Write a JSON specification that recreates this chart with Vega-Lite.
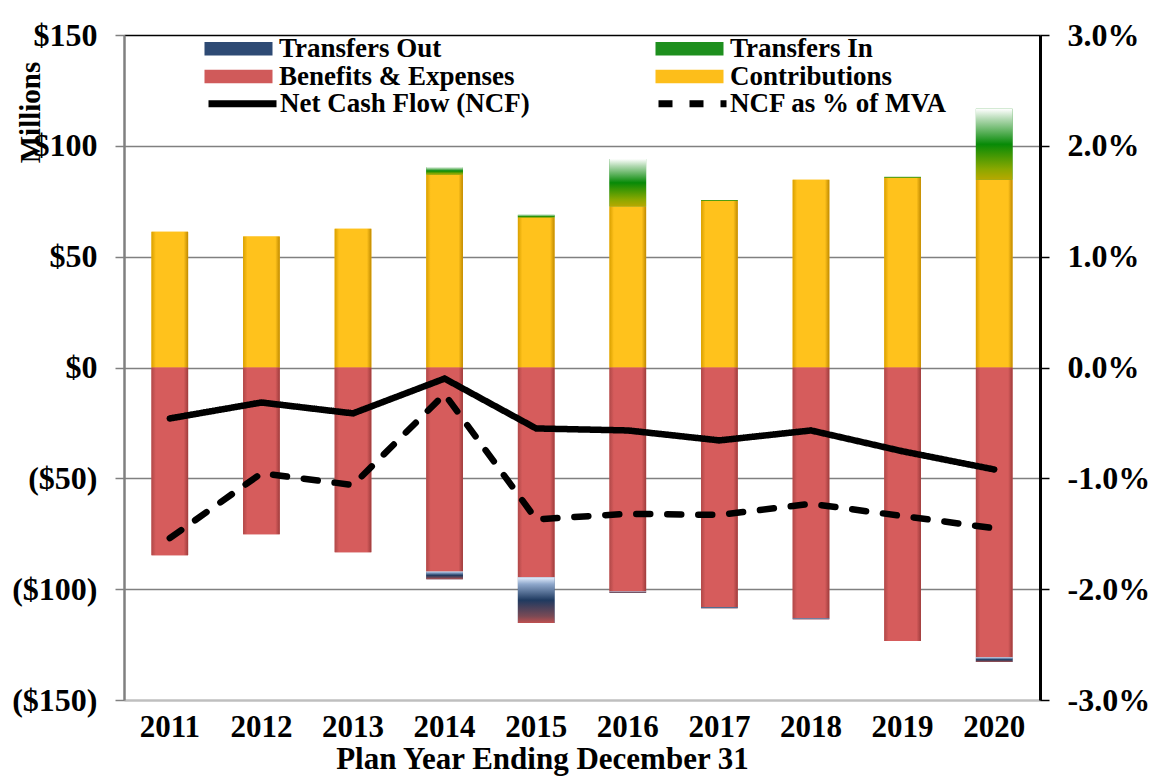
{
  "$schema": "https://vega.github.io/schema/vega-lite/v6.json",
  "width": 916,
  "height": 665,
  "autosize": {"type": "none"},
  "padding": {"left": 124, "top": 35, "right": 112, "bottom": 84},
  "background": "white",
  "config": {"font": "Liberation Serif", "view": {"stroke": null}},
  "data": {
    "values": [
      {"year": "2011", "series": "Contributions", "value": 61.2},
      {"year": "2012", "series": "Contributions", "value": 59.1},
      {"year": "2013", "series": "Contributions", "value": 62.6},
      {"year": "2014", "series": "Contributions", "value": 86.9},
      {"year": "2015", "series": "Contributions", "value": 67.6},
      {"year": "2016", "series": "Contributions", "value": 72.6},
      {"year": "2017", "series": "Contributions", "value": 75.2},
      {"year": "2018", "series": "Contributions", "value": 84.7},
      {"year": "2019", "series": "Contributions", "value": 85.6},
      {"year": "2020", "series": "Contributions", "value": 84.7},
      {"year": "2011", "series": "Transfers In", "value": 0},
      {"year": "2012", "series": "Transfers In", "value": 0},
      {"year": "2013", "series": "Transfers In", "value": 0},
      {"year": "2014", "series": "Transfers In", "value": 3.6},
      {"year": "2015", "series": "Transfers In", "value": 1.3},
      {"year": "2016", "series": "Transfers In", "value": 21.5},
      {"year": "2017", "series": "Transfers In", "value": 0.4},
      {"year": "2018", "series": "Transfers In", "value": 0},
      {"year": "2019", "series": "Transfers In", "value": 0.4},
      {"year": "2020", "series": "Transfers In", "value": 32.0},
      {"year": "2011", "series": "Benefits & Expenses", "value": -84.7},
      {"year": "2012", "series": "Benefits & Expenses", "value": -75.2},
      {"year": "2013", "series": "Benefits & Expenses", "value": -83.3},
      {"year": "2014", "series": "Benefits & Expenses", "value": -92.0},
      {"year": "2015", "series": "Benefits & Expenses", "value": -94.6},
      {"year": "2016", "series": "Benefits & Expenses", "value": -101.0},
      {"year": "2017", "series": "Benefits & Expenses", "value": -108.1},
      {"year": "2018", "series": "Benefits & Expenses", "value": -113.1},
      {"year": "2019", "series": "Benefits & Expenses", "value": -123.4},
      {"year": "2020", "series": "Benefits & Expenses", "value": -130.7},
      {"year": "2011", "series": "Transfers Out", "value": 0},
      {"year": "2012", "series": "Transfers Out", "value": 0},
      {"year": "2013", "series": "Transfers Out", "value": 0},
      {"year": "2014", "series": "Transfers Out", "value": -3.5},
      {"year": "2015", "series": "Transfers Out", "value": -20.7},
      {"year": "2016", "series": "Transfers Out", "value": -0.6},
      {"year": "2017", "series": "Transfers Out", "value": -0.5},
      {"year": "2018", "series": "Transfers Out", "value": -0.5},
      {"year": "2019", "series": "Transfers Out", "value": 0},
      {"year": "2020", "series": "Transfers Out", "value": -2.2},
      {"year": "2011", "series": "Net Cash Flow (NCF)", "value": -23.0},
      {"year": "2012", "series": "Net Cash Flow (NCF)", "value": -15.8},
      {"year": "2013", "series": "Net Cash Flow (NCF)", "value": -20.7},
      {"year": "2014", "series": "Net Cash Flow (NCF)", "value": -5.0},
      {"year": "2015", "series": "Net Cash Flow (NCF)", "value": -27.5},
      {"year": "2016", "series": "Net Cash Flow (NCF)", "value": -28.4},
      {"year": "2017", "series": "Net Cash Flow (NCF)", "value": -32.9},
      {"year": "2018", "series": "Net Cash Flow (NCF)", "value": -28.4},
      {"year": "2019", "series": "Net Cash Flow (NCF)", "value": -37.8},
      {"year": "2020", "series": "Net Cash Flow (NCF)", "value": -46.0},
      {"year": "2011", "series": "NCF as % of MVA", "value": -0.0154},
      {"year": "2012", "series": "NCF as % of MVA", "value": -0.00955},
      {"year": "2013", "series": "NCF as % of MVA", "value": -0.0106},
      {"year": "2014", "series": "NCF as % of MVA", "value": -0.0024},
      {"year": "2015", "series": "NCF as % of MVA", "value": -0.0137},
      {"year": "2016", "series": "NCF as % of MVA", "value": -0.0132},
      {"year": "2017", "series": "NCF as % of MVA", "value": -0.0133},
      {"year": "2018", "series": "NCF as % of MVA", "value": -0.0123},
      {"year": "2019", "series": "NCF as % of MVA", "value": -0.0134},
      {"year": "2020", "series": "NCF as % of MVA", "value": -0.0145}
    ]
  },
  "encoding": {
    "x": {
      "field": "year",
      "type": "ordinal",
      "scale": {"paddingInner": 0.6, "paddingOuter": 0.3},
      "axis": {
        "title": "Plan Year Ending December 31",
        "titleX": 418,
        "titleAlign": "center",
        "labelAngle": 0,
        "ticks": false,
        "labelPadding": 12,
        "labelFontSize": 31,
        "labelFontWeight": "bold",
        "labelColor": "black",
        "titleFontSize": 31,
        "titleFontWeight": "bold",
        "titleColor": "black",
        "titlePadding": 2,
        "domainColor": "#BFBFBF",
        "domainWidth": 2,
        "grid": false
      }
    }
  },
  "layer": [
    {
      "transform": [
        {"filter": "indexof(['Transfers Out','Transfers In','Benefits & Expenses','Contributions'], datum.series) >= 0"},
        {"stack": "value", "groupby": ["year"], "sort": [{"field": "series", "order": "ascending"}], "offset": "zero", "as": ["v0", "v1"]}
      ],
      "encoding": {
        "y": {
          "field": "v0",
          "type": "quantitative",
          "scale": {"domain": [-150, 150], "nice": false, "zero": false},
          "axis": {
            "values": [-150, -100, -50, 0, 50, 100, 150],
            "labelExpr": "datum.value < 0 ? '($' + format(-datum.value, 'd') + ')' : '$' + format(datum.value, 'd') + '\u00a0'",
            "title": "Millions",
            "titleX": -94,
            "titleY": 77,
            "titleAngle": -90,
            "titleAlign": "center",
            "titleBaseline": "middle",
            "titleFontSize": 29,
            "titleFontWeight": "bold",
            "titleColor": "black",
            "labelFontSize": 32,
            "labelFontWeight": "bold",
            "labelColor": "black",
            "labelPadding": 18,
            "tickSize": 9,
            "tickColor": "#808080",
            "tickWidth": 1.5,
            "domainColor": "#808080",
            "domainWidth": 2.5,
            "grid": true,
            "gridColor": {"condition": {"test": "datum.value === 150", "value": "#000000"}, "value": "#808080"},
            "gridWidth": 1.5
          }
        },
        "y2": {"field": "v1"}
      },
      "layer": [
        {
          "mark": {"type": "bar"},
          "encoding": {
            "color": {
              "field": "series",
              "type": "nominal",
              "scale": {
                "domain": ["Transfers Out", "Benefits & Expenses", "Transfers In", "Contributions"],
                "range": ["#2E4A74", "#D05A5A", "#1E8F1E", "#FDBE1A"]
              },
              "legend": {
                "orient": "none",
                "legendX": 101,
                "legendY": 0,
                "columns": 2,
                "columnPadding": 140,
                "rowPadding": 0,
                "title": null,
                "symbolType": "M-3,-0.6L3,-0.6L3,0.6L-3,0.6Z",
                "symbolSize": 514,
                "symbolStrokeWidth": 0,
                "symbolOpacity": 1,
                "labelFontSize": 27,
                "labelFontWeight": "bold",
                "labelColor": "black",
                "labelOffset": 27,
                "labelLimit": 400
              }
            }
          }
        },
        {
          "transform": [{"filter": "datum.series === 'Contributions'"}],
          "mark": {"type": "bar", "fill": {"gradient": "linear", "x1": 0, "y1": 0, "x2": 1, "y2": 0, "stops": [{"offset": 0, "color": "#D9A000"}, {"offset": 0.12, "color": "#FFC21C"}, {"offset": 0.88, "color": "#FFC21C"}, {"offset": 1, "color": "#C08A00"}]}}
        },
        {
          "transform": [{"filter": "datum.series === 'Benefits & Expenses'"}],
          "mark": {"type": "bar", "fill": {"gradient": "linear", "x1": 0, "y1": 0, "x2": 1, "y2": 0, "stops": [{"offset": 0, "color": "#B04848"}, {"offset": 0.12, "color": "#D65C5C"}, {"offset": 0.88, "color": "#D65C5C"}, {"offset": 1, "color": "#9E3C3C"}]}}
        },
        {
          "transform": [{"filter": "datum.series === 'Transfers In'"}],
          "mark": {"type": "bar", "fill": {"gradient": "linear", "x1": 0, "y1": 0, "x2": 0, "y2": 1, "stops": [{"offset": 0, "color": "#FFFFFF"}, {"offset": 0.15, "color": "#B0D8B0"}, {"offset": 0.5, "color": "#078A07"}, {"offset": 0.85, "color": "#8AA800"}, {"offset": 1, "color": "#B8A800"}]}}
        },
        {
          "transform": [{"filter": "datum.series === 'Transfers Out'"}],
          "mark": {"type": "bar", "fill": {"gradient": "linear", "x1": 0, "y1": 0, "x2": 0, "y2": 1, "stops": [{"offset": 0, "color": "#E6F0FF"}, {"offset": 0.15, "color": "#8FA8CC"}, {"offset": 0.5, "color": "#1F3A60"}, {"offset": 0.85, "color": "#7A4A55"}, {"offset": 1, "color": "#C05050"}]}}
        }
      ]
    },
    {
      "transform": [{"filter": "datum.series === 'Net Cash Flow (NCF)'"}],
      "mark": {"type": "line", "color": "black", "strokeWidth": 6.5, "strokeCap": "round"},
      "encoding": {
        "y": {"field": "value", "type": "quantitative", "scale": {"domain": [-150, 150], "nice": false, "zero": false}, "axis": null},
        "strokeDash": {
          "field": "series",
          "type": "nominal",
          "scale": {"domain": ["Net Cash Flow (NCF)", "NCF as % of MVA"], "range": [[1, 0], [14, 17]]},
          "legend": {
            "orient": "none",
            "legendX": 81,
            "legendY": 31,
            "columns": 2,
            "columnPadding": 114,
            "title": null,
            "symbolType": "stroke",
            "symbolSize": 4624,
            "symbolStrokeWidth": 7,
            "symbolStrokeColor": "black",
            "labelFontSize": 27,
            "labelFontWeight": "bold",
            "labelColor": "black",
            "labelOffset": 0,
            "labelLimit": 400
          }
        }
      }
    },
    {
      "transform": [{"filter": "datum.series === 'NCF as % of MVA'"}],
      "mark": {"type": "line", "color": "black", "strokeWidth": 6.5, "strokeCap": "round"},
      "encoding": {
        "y": {
          "field": "value",
          "type": "quantitative",
          "scale": {"domain": [-0.03, 0.03], "nice": false, "zero": false},
          "axis": {
            "orient": "right",
            "values": [-0.03, -0.02, -0.01, 0, 0.01, 0.02, 0.03],
            "labelExpr": "(datum.value < -0.0001 ? '-' : '') + format(abs(datum.value) * 100, '.1f') + '%'",
            "title": null,
            "grid": false,
            "labelFontSize": 32,
            "labelFontWeight": "bold",
            "labelColor": "black",
            "labelPadding": 18,
            "tickSize": 9,
            "tickColor": "black",
            "tickWidth": 1.5,
            "domainColor": "black",
            "domainWidth": 3
          }
        },
        "strokeDash": {"field": "series", "type": "nominal"}
      }
    }
  ],
  "resolve": {"scale": {"y": "independent"}}
}
